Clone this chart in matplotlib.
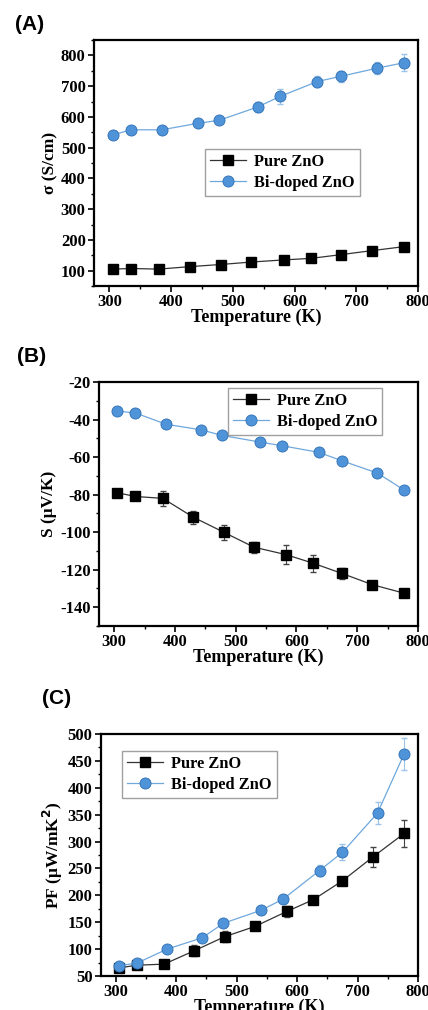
import numpy as np
import matplotlib.pyplot as plt
from matplotlib.ticker import MultipleLocator

plt.rcParams['axes.unicode_minus'] = False

# temperatures (K)
T_pure = [305, 335, 380, 430, 480, 530, 583, 627, 675, 725, 777]
T_bi = [305, 335, 385, 443, 478, 540, 577, 637, 675, 733, 777]

# (A) electrical conductivity
sig_pure = [105, 107, 105, 113, 120, 128, 135, 140, 152, 165, 178]
sig_pure_err = [3, 3, 3, 3, 3, 3, 4, 4, 5, 5, 5]
sig_bi = [541, 558, 558, 579, 589, 632, 667, 715, 732, 758, 776]
sig_bi_err = [5, 5, 5, 6, 6, 15, 25, 18, 18, 20, 28]

# (B) Seebeck coefficient
S_pure = [-79, -81, -82, -92, -100, -108, -112, -116.5, -122, -128, -132.5]
S_pure_err = [1, 1, 4, 3.5, 4, 3, 5, 4.5, 3, 1, 1]
S_bi = [-35.5, -36.5, -42.5, -45.5, -48.5, -52, -54, -57.5, -62, -68.5, -77.5]
S_bi_err = [1, 1, 1, 1, 1, 1, 1, 1, 1, 1, 1]

# (C) power factor
PF_pure = [65, 70, 72, 97, 123, 142, 170, 192, 227, 271, 315]
PF_pure_err = [3, 3, 3, 10, 10, 4, 10, 4, 6, 18, 25]
PF_bi = [69, 74, 100, 121, 148, 172, 193, 246, 280, 353, 463]
PF_bi_err = [3, 3, 4, 5, 6, 6, 6, 10, 15, 20, 30]

serif = ['Liberation Serif', 'DejaVu Serif']
blue_line = '#6fa8dc'
blue_face = '#4f94d8'
blue_edge = '#2f6fb5'


def draw_panel(ax, ypure, epure, ybi, ebi, ylim, ymaj, ymin, ylabel, leg_loc):
    # error bars first, then the lines and markers (these carry the legend)
    ax.errorbar(T_pure, ypure, yerr=epure, fmt='none', ecolor='#444444',
                elinewidth=0.8, capsize=2.5, zorder=2)
    ax.errorbar(T_bi, ybi, yerr=ebi, fmt='none', ecolor='#9cc3ea',
                elinewidth=0.8, capsize=2.5, zorder=2)
    ax.plot(T_pure, ypure, color='#333333', lw=0.9, marker='s', ms=7,
            mfc='black', mec='black', label='Pure ZnO', zorder=3)
    ax.plot(T_bi, ybi, color=blue_line, lw=0.9, marker='o', ms=8,
            mfc=blue_face, mec=blue_edge, mew=0.6, label='Bi-doped ZnO',
            zorder=4)
    ax.set_xlim(275, 800)
    ax.set_ylim(*ylim)
    ax.xaxis.set_major_locator(MultipleLocator(100))
    ax.xaxis.set_minor_locator(MultipleLocator(50))
    ax.yaxis.set_major_locator(MultipleLocator(ymaj))
    ax.yaxis.set_minor_locator(MultipleLocator(ymin))
    ax.tick_params(which='major', direction='out', length=4, width=1.2,
                   top=False, right=False, pad=2)
    ax.tick_params(which='minor', direction='out', length=2.5, width=1.0,
                   top=False, right=False)
    for lab in ax.get_xticklabels() + ax.get_yticklabels():
        lab.set_family(serif)
        lab.set_weight('bold')
        lab.set_fontsize(12)
    for sp in ax.spines.values():
        sp.set_linewidth(1.6)
    ax.set_xlabel('Temperature (K)', family=serif, weight='bold',
                  fontsize=13, labelpad=-1)
    ax.set_ylabel(ylabel, family=serif, weight='bold', fontsize=12.5,
                  labelpad=2)
    leg = ax.legend(loc='upper left', bbox_to_anchor=leg_loc,
                    prop={'family': serif, 'weight': 'bold', 'size': 11.8},
                    frameon=True, fancybox=False, edgecolor='#888888',
                    handlelength=2.2, borderpad=0.3, labelspacing=0.3,
                    handletextpad=0.5, borderaxespad=0)
    leg.get_frame().set_linewidth(1.0)


fig = plt.figure(figsize=(4.28, 10.10), dpi=100)

axA = fig.add_axes([0.2196, 0.7168, 0.757, 0.2436])
draw_panel(axA, sig_pure, sig_pure_err, sig_bi, sig_bi_err,
           (50, 850), 100, 50, 'σ (S/cm)', (0.343, 0.557))

axB = fig.add_axes([0.2313, 0.3802, 0.7453, 0.2416])
draw_panel(axB, S_pure, S_pure_err, S_bi, S_bi_err,
           (-150, -20), 20, 10, 'S (μV/K)', (0.404, 0.975))

axC = fig.add_axes([0.2353, 0.0337, 0.7414, 0.2396])
draw_panel(axC, PF_pure, PF_pure_err, PF_bi, PF_bi_err,
           (50, 500), 50, 25, 'PF (μW/mK$^\\mathbf{2}$)', (0.067, 0.93))

sans = ['Liberation Sans', 'DejaVu Sans']
fig.text(15 / 428, 1 - 25 / 1010, '(A)', family=sans, weight='bold',
         fontsize=15, va='center', ha='left')
fig.text(17 / 428, 1 - 356 / 1010, '(B)', family=sans, weight='bold',
         fontsize=15, va='center', ha='left')
fig.text(42 / 428, 1 - 698 / 1010, '(C)', family=sans, weight='bold',
         fontsize=15, va='center', ha='left')

fig.savefig('out.png', dpi=100)
